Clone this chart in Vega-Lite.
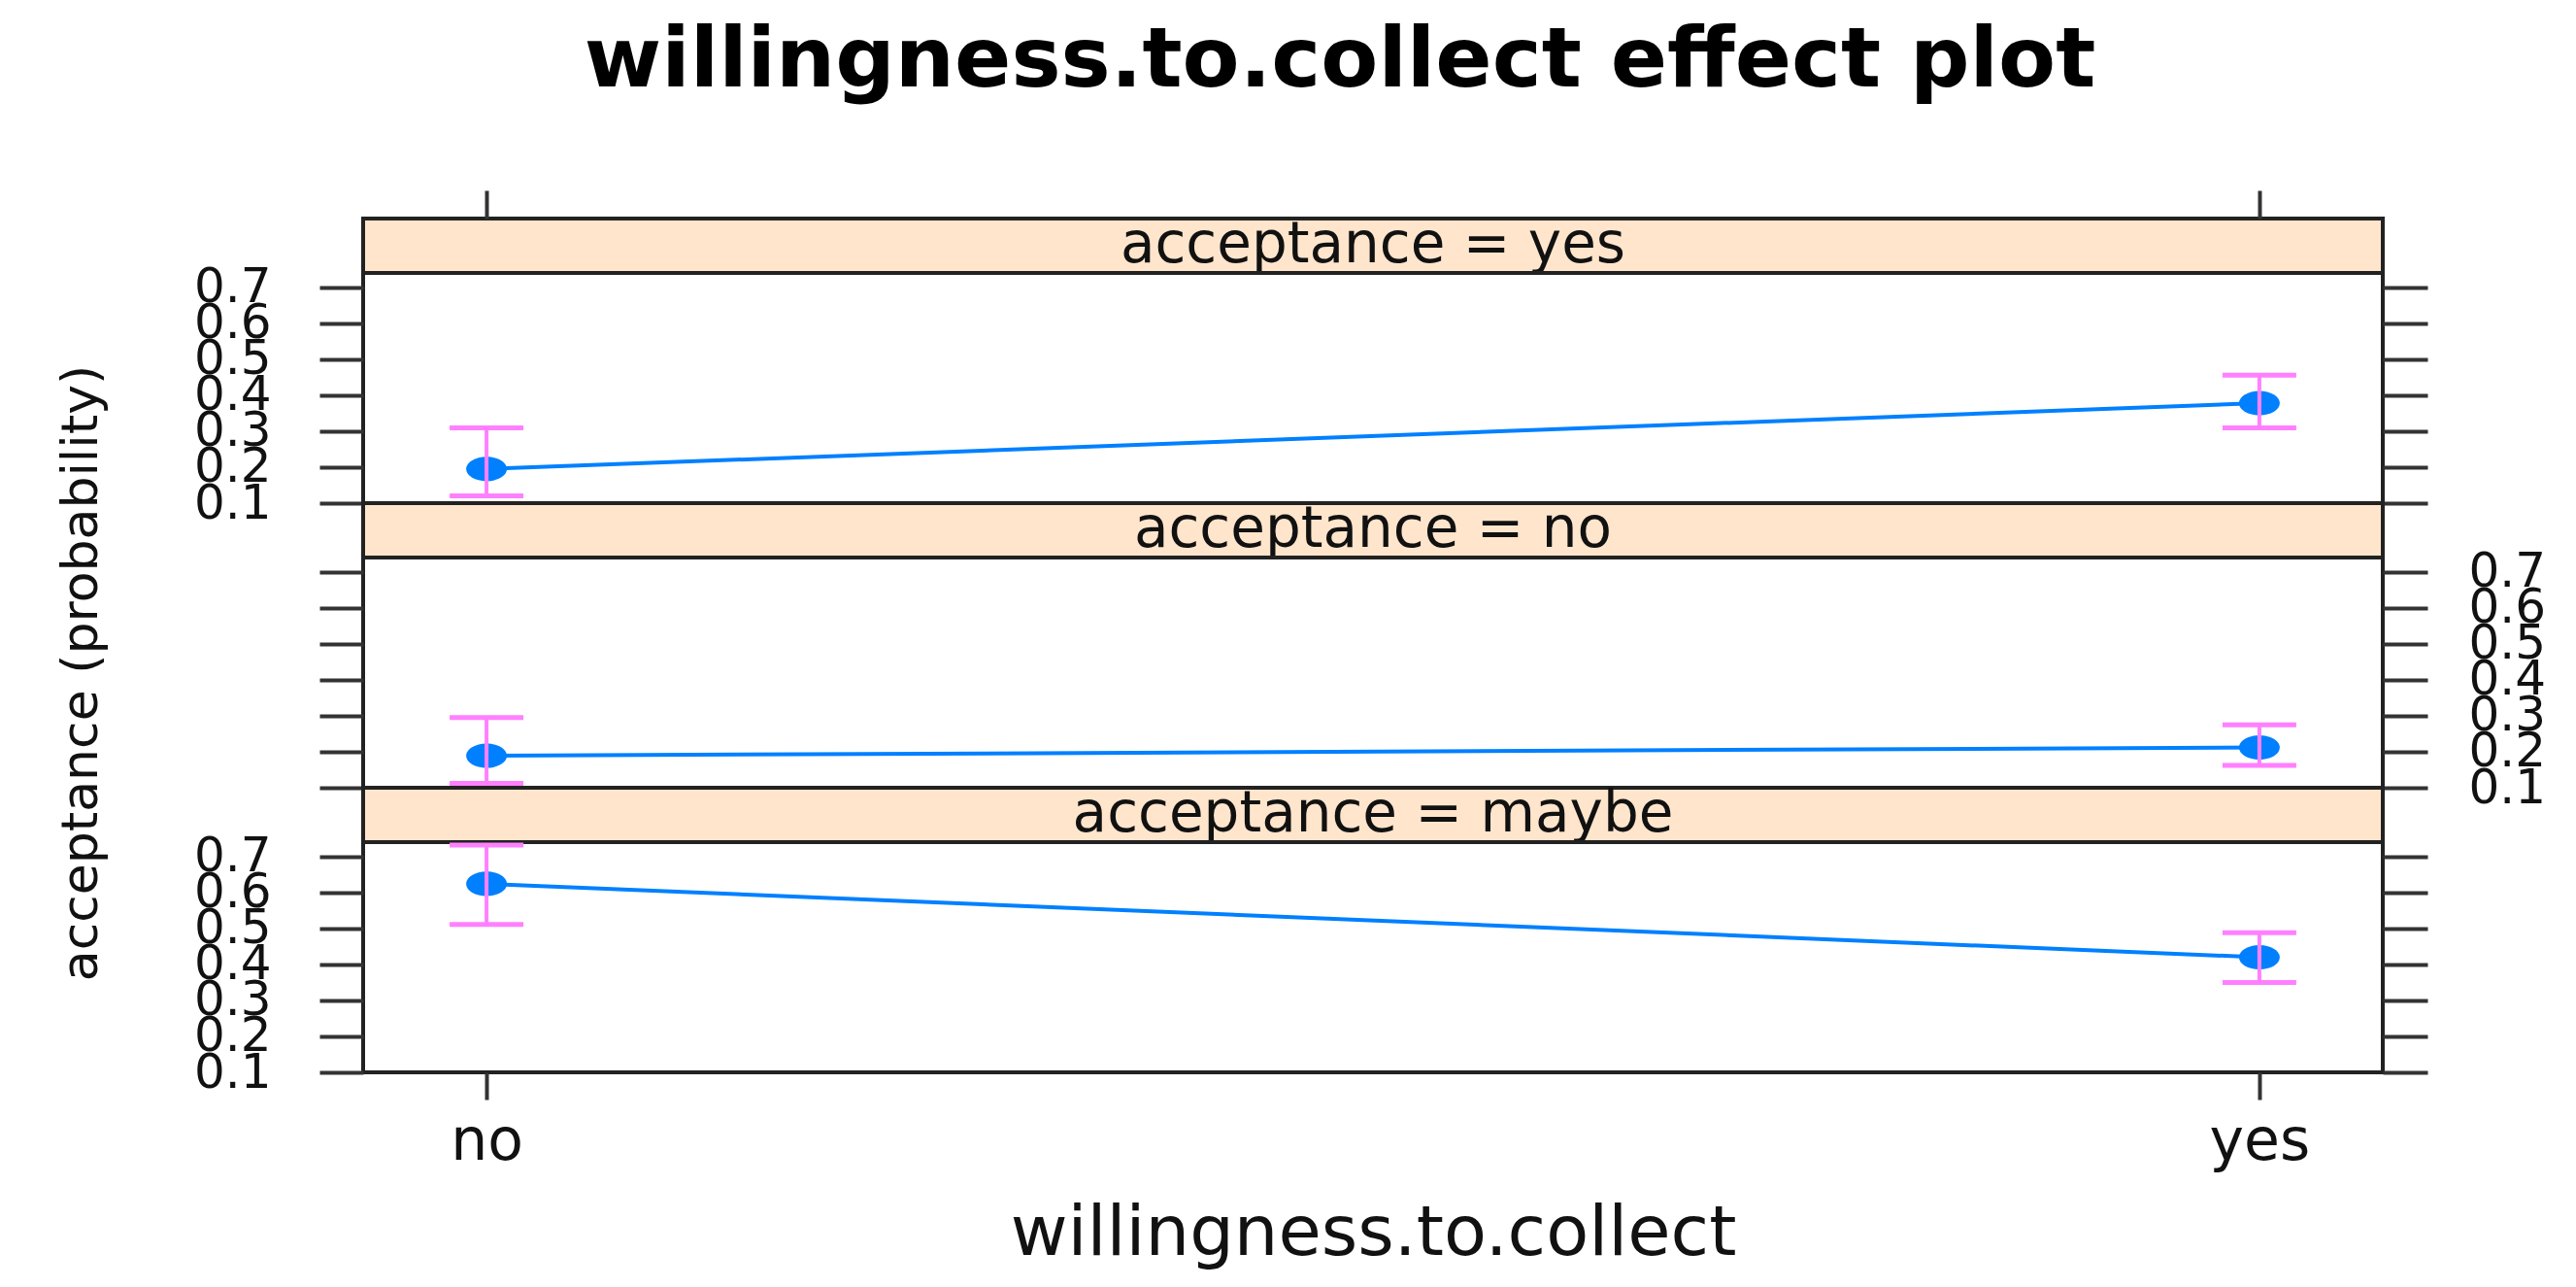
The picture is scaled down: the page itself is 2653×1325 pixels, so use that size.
{
  "$schema": "https://vega.github.io/schema/vega-lite/v6.json",
  "background": "white",
  "padding": {"left": 54, "top": 20, "right": 10, "bottom": 10},
  "title": {"text": "willingness.to.collect effect plot", "font": "DejaVu Sans", "fontSize": 86, "fontWeight": "bold", "color": "#000", "anchor": "middle", "frame": "group", "baseline": "alphabetic", "offset": 17, "dx": -34},
  "datasets": {
    "effects": [
      {"acceptance": "yes", "willingness": "no", "fit": 0.195, "lower": 0.12, "upper": 0.309},
      {"acceptance": "yes", "willingness": "yes", "fit": 0.378, "lower": 0.309, "upper": 0.456},
      {"acceptance": "no", "willingness": "no", "fit": 0.189, "lower": 0.112, "upper": 0.295},
      {"acceptance": "no", "willingness": "yes", "fit": 0.212, "lower": 0.162, "upper": 0.275},
      {"acceptance": "maybe", "willingness": "no", "fit": 0.624, "lower": 0.511, "upper": 0.732},
      {"acceptance": "maybe", "willingness": "yes", "fit": 0.42, "lower": 0.35, "upper": 0.488}
    ],
    "strips": [
      {"acceptance": "yes", "label": "acceptance = yes"},
      {"acceptance": "no", "label": "acceptance = no"},
      {"acceptance": "maybe", "label": "acceptance = maybe"}
    ]
  },
  "spacing": 0,
  "bounds": "flush",
  "resolve": {"scale": {"x": "independent", "y": "independent"}},
  "vconcat": [
    {
      "width": 2080, "height": 56,
      "view": {"fill": "#ffe5cc", "stroke": "#222", "strokeWidth": 4},
      "layer": [
        {
          "data": {"name": "effects"},
          "transform": [{"filter": "datum.acceptance == 'yes'"}],
          "mark": {"type": "point", "opacity": 0},
          "encoding": {"x": {"field": "willingness", "type": "nominal", "scale": {"type": "point", "domain": ["no", "yes"], "padding": 0.0696}, "axis": {"orient": "top", "labels": false, "title": null, "tickSize": 29}}}
        },
        {
          "data": {"name": "strips"},
          "transform": [{"filter": "datum.acceptance == 'yes'"}],
          "mark": {"type": "text", "font": "DejaVu Sans", "fontSize": 58, "color": "#111", "baseline": "middle", "align": "center"},
          "encoding": {"text": {"field": "label"}}
        }
      ]
    },
    {
      "width": 2080, "height": 237,
      "data": {"name": "effects"},
      "transform": [{"filter": "datum.acceptance == 'yes'"}],
      "encoding": {"x": {"field": "willingness", "type": "nominal", "scale": {"type": "point", "domain": ["no", "yes"], "padding": 0.0696}, "axis": null}},
      "layer": [
        {"mark": {"type": "line", "color": "#0080ff", "strokeWidth": 4},
         "encoding": {"y": {"field": "fit", "type": "quantitative", "scale": {"domain": [0.1, 0.74], "nice": false, "zero": false}, "axis": {"orient": "left", "values": [0.1, 0.2, 0.3, 0.4, 0.5, 0.6, 0.7], "format": ".1f", "tickSize": 45, "labelPadding": 50, "labelFontSize": 50, "labelOverlap": false, "labelFlush": false, "labelBound": false, "title": null}}}},
        {"mark": {"type": "point", "filled": true, "opacity": 1, "color": "#0080ff", "shape": "M-1,0A1,0.6,0,1,0,1,0A1,0.6,0,1,0,-1,0Z", "size": 1764},
         "encoding": {"y": {"field": "fit", "type": "quantitative", "scale": {"domain": [0.1, 0.74], "nice": false, "zero": false}, "axis": {"orient": "right", "values": [0.1, 0.2, 0.3, 0.4, 0.5, 0.6, 0.7], "tickSize": 46, "labels": false, "title": null}}}},
        {"mark": {"type": "rule", "color": "#ff80ff", "strokeWidth": 4},
         "encoding": {"y": {"field": "lower", "type": "quantitative", "scale": {"domain": [0.1, 0.74], "nice": false, "zero": false}, "axis": null}, "y2": {"field": "upper"}}},
        {"mark": {"type": "tick", "color": "#ff80ff", "thickness": 5, "size": 76, "opacity": 1},
         "encoding": {"y": {"field": "lower", "type": "quantitative", "scale": {"domain": [0.1, 0.74], "nice": false, "zero": false}, "axis": null}}},
        {"mark": {"type": "tick", "color": "#ff80ff", "thickness": 5, "size": 76, "opacity": 1},
         "encoding": {"y": {"field": "upper", "type": "quantitative", "scale": {"domain": [0.1, 0.74], "nice": false, "zero": false}, "axis": null}}}
      ],
      "resolve": {"axis": {"y": "independent"}}
    },
    {
      "width": 2080, "height": 56,
      "view": {"fill": "#ffe5cc", "stroke": "#222", "strokeWidth": 4},
      "data": {"name": "strips"},
      "transform": [{"filter": "datum.acceptance == 'no'"}],
      "mark": {"type": "text", "font": "DejaVu Sans", "fontSize": 58, "color": "#111", "baseline": "middle", "align": "center"},
      "encoding": {"text": {"field": "label"}}
    },
    {
      "width": 2080, "height": 237,
      "data": {"name": "effects"},
      "transform": [{"filter": "datum.acceptance == 'no'"}],
      "encoding": {"x": {"field": "willingness", "type": "nominal", "scale": {"type": "point", "domain": ["no", "yes"], "padding": 0.0696}, "axis": null}},
      "layer": [
        {"mark": {"type": "line", "color": "#0080ff", "strokeWidth": 4},
         "encoding": {"y": {"field": "fit", "type": "quantitative", "scale": {"domain": [0.1, 0.74], "nice": false, "zero": false}, "axis": {"orient": "left", "values": [0.1, 0.2, 0.3, 0.4, 0.5, 0.6, 0.7], "tickSize": 45, "labels": false, "title": "acceptance (probability)", "titleFont": "DejaVu Sans", "titleFontSize": 52, "titleFontWeight": "normal", "titleColor": "#111", "titleAngle": -90, "titleBaseline": "alphabetic", "titleX": -275}}}},
        {"mark": {"type": "point", "filled": true, "opacity": 1, "color": "#0080ff", "shape": "M-1,0A1,0.6,0,1,0,1,0A1,0.6,0,1,0,-1,0Z", "size": 1764},
         "encoding": {"y": {"field": "fit", "type": "quantitative", "scale": {"domain": [0.1, 0.74], "nice": false, "zero": false}, "axis": {"orient": "right", "values": [0.1, 0.2, 0.3, 0.4, 0.5, 0.6, 0.7], "format": ".1f", "tickSize": 46, "labelPadding": 42, "labelFontSize": 50, "labelOverlap": false, "labelFlush": false, "labelBound": false, "title": null}}}},
        {"mark": {"type": "rule", "color": "#ff80ff", "strokeWidth": 4},
         "encoding": {"y": {"field": "lower", "type": "quantitative", "scale": {"domain": [0.1, 0.74], "nice": false, "zero": false}, "axis": null}, "y2": {"field": "upper"}}},
        {"mark": {"type": "tick", "color": "#ff80ff", "thickness": 5, "size": 76, "opacity": 1},
         "encoding": {"y": {"field": "lower", "type": "quantitative", "scale": {"domain": [0.1, 0.74], "nice": false, "zero": false}, "axis": null}}},
        {"mark": {"type": "tick", "color": "#ff80ff", "thickness": 5, "size": 76, "opacity": 1},
         "encoding": {"y": {"field": "upper", "type": "quantitative", "scale": {"domain": [0.1, 0.74], "nice": false, "zero": false}, "axis": null}}}
      ],
      "resolve": {"axis": {"y": "independent"}}
    },
    {
      "width": 2080, "height": 56,
      "view": {"fill": "#ffe5cc", "stroke": "#222", "strokeWidth": 4},
      "data": {"name": "strips"},
      "transform": [{"filter": "datum.acceptance == 'maybe'"}],
      "mark": {"type": "text", "font": "DejaVu Sans", "fontSize": 58, "color": "#111", "baseline": "middle", "align": "center"},
      "encoding": {"text": {"field": "label"}}
    },
    {
      "width": 2080, "height": 237,
      "data": {"name": "effects"},
      "transform": [{"filter": "datum.acceptance == 'maybe'"}],
      "encoding": {"x": {"field": "willingness", "type": "nominal", "scale": {"type": "point", "domain": ["no", "yes"], "padding": 0.0696}, "axis": {"orient": "bottom", "tickSize": 28, "labelFontSize": 60, "labelPadding": 61, "labelBaseline": "alphabetic", "labelAngle": 0, "labelFlush": false, "title": "willingness.to.collect", "titleFont": "DejaVu Sans", "titleFontSize": 72, "titleFontWeight": "normal", "titleColor": "#111", "titleY": 187, "titleBaseline": "alphabetic"}}},
      "layer": [
        {"mark": {"type": "line", "color": "#0080ff", "strokeWidth": 4},
         "encoding": {"y": {"field": "fit", "type": "quantitative", "scale": {"domain": [0.1, 0.74], "nice": false, "zero": false}, "axis": {"orient": "left", "values": [0.1, 0.2, 0.3, 0.4, 0.5, 0.6, 0.7], "format": ".1f", "tickSize": 45, "labelPadding": 50, "labelFontSize": 50, "labelOverlap": false, "labelFlush": false, "labelBound": false, "title": null}}}},
        {"mark": {"type": "point", "filled": true, "opacity": 1, "color": "#0080ff", "shape": "M-1,0A1,0.6,0,1,0,1,0A1,0.6,0,1,0,-1,0Z", "size": 1764},
         "encoding": {"y": {"field": "fit", "type": "quantitative", "scale": {"domain": [0.1, 0.74], "nice": false, "zero": false}, "axis": {"orient": "right", "values": [0.1, 0.2, 0.3, 0.4, 0.5, 0.6, 0.7], "tickSize": 46, "labels": false, "title": null}}}},
        {"mark": {"type": "rule", "color": "#ff80ff", "strokeWidth": 4},
         "encoding": {"y": {"field": "lower", "type": "quantitative", "scale": {"domain": [0.1, 0.74], "nice": false, "zero": false}, "axis": null}, "y2": {"field": "upper"}}},
        {"mark": {"type": "tick", "color": "#ff80ff", "thickness": 5, "size": 76, "opacity": 1},
         "encoding": {"y": {"field": "lower", "type": "quantitative", "scale": {"domain": [0.1, 0.74], "nice": false, "zero": false}, "axis": null}}},
        {"mark": {"type": "tick", "color": "#ff80ff", "thickness": 5, "size": 76, "opacity": 1},
         "encoding": {"y": {"field": "upper", "type": "quantitative", "scale": {"domain": [0.1, 0.74], "nice": false, "zero": false}, "axis": null}}}
      ],
      "resolve": {"axis": {"y": "independent"}}
    }
  ],
  "config": {
    "view": {"stroke": "#222", "strokeWidth": 4},
    "axis": {"domain": false, "grid": false, "tickColor": "#333", "tickWidth": 4, "labelFont": "DejaVu Sans", "labelColor": "#111", "titleFont": "DejaVu Sans", "titleFontWeight": "normal", "titleColor": "#111"}
  }
}
